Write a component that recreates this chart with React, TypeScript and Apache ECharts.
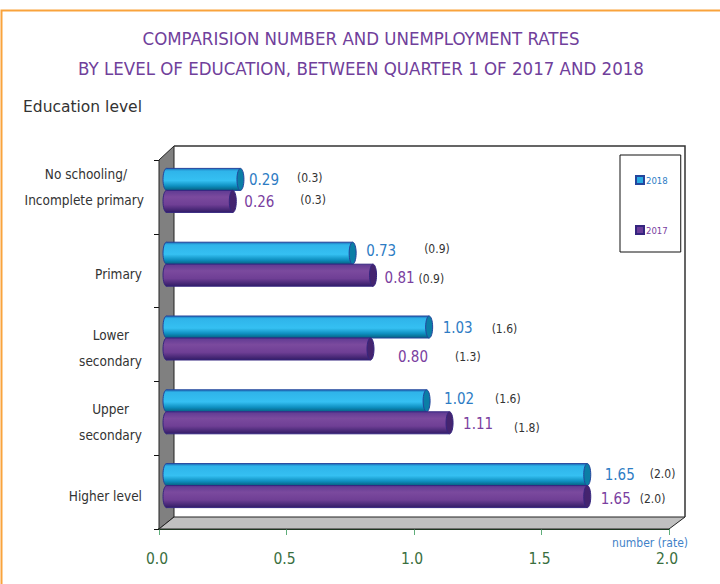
import React, { useEffect, useRef } from "react";
import * as echarts from "echarts";

const categories = [
  "{a|No schooling/}\n{b|Incomplete primary}\n{g| }",
  "{c|Primary}",
  "{d|Lower}\n{e|secondary}",
  "{d|Upper}\n{e|secondary}",
  "{f|Higher level}",
];
const values2018 = [0.29, 0.73, 1.03, 1.02, 1.65];
const values2017 = [0.26, 0.81, 0.8, 1.11, 1.65];
const rates2018 = ["(0.3)", "(0.9)", "(1.6)", "(1.6)", "(2.0)"];
const rates2017 = ["(0.3)", "(0.9)", "(1.3)", "(1.8)", "(2.0)"];

// label nudges in pixels, relative to the bar's end and the band's centre
const valueDx2018 = [16, 21, 21, 25, 25];
const valueDx2017 = [19, 19, 35, 21, 21];
const valueDy2018 = [-17, -19.5, -17, -19.5, -17];
const valueDy2017 = [5, 7.5, 12, 5.5, 7];
const rateDx2018 = [64, 79, 70, 76, 70];
const rateDx2017 = [75, 53, 92, 72, 60];
const rateDy2018 = [-19, -21.5, -16, -19.5, -18];
const rateDy2017 = [3, 8.5, 12, 9.5, 7];

const FONT = '"DejaVu Sans Condensed", "Noto Sans", sans-serif';
const DEPTH_X = 7.5;
const DEPTH_Y = 6.5;
const BAR_H = 22;

function barSeries(
  name: string,
  values: number[],
  rates: string[],
  top: boolean,
  colors: any,
  vdx: number[],
  vdy: number[],
  rdx: number[],
  rdy: number[]
) {
  return {
    name,
    type: "custom",
    coordinateSystem: "cartesian2d",
    clip: false,
    silent: true,
    z: top ? 3 : 4,
    encode: { x: 0, y: 1 },
    itemStyle: { color: colors.legend, borderColor: colors.border, borderWidth: 1 },
    data: values.map((v, i) => [v, i]),
    renderItem: (_p: any, api: any) => {
      const v = api.value(0);
      const i = api.value(1);
      const end = api.coord([v, i]);
      const start = api.coord([0, i]);
      const x0 = start[0] + DEPTH_X;
      const x1 = end[0] + DEPTH_X;
      const mid = end[1] - DEPTH_Y;
      const y = top ? mid - BAR_H : mid;
      const grad = new echarts.graphic.LinearGradient(0, 0, 0, 1, colors.stops);
      const idx = _p.dataIndex;
      const edge = { stroke: colors.border, lineWidth: 1 };
      return {
        type: "group",
        children: [
          {
            type: "ellipse",
            shape: { cx: x0, cy: y + BAR_H / 2, rx: 3.5, ry: BAR_H / 2 },
            style: { fill: grad, ...edge },
          },
          {
            type: "rect",
            shape: { x: x0, y, width: x1 - x0, height: BAR_H },
            style: { fill: grad, stroke: "none" },
          },
          { type: "line", shape: { x1: x0, y1: y, x2: x1, y2: y }, style: edge },
          { type: "line", shape: { x1: x0, y1: y + BAR_H, x2: x1, y2: y + BAR_H }, style: edge },
          {
            type: "ellipse",
            shape: { cx: x1, cy: y + BAR_H / 2, rx: 3.5, ry: BAR_H / 2 },
            style: { fill: colors.cap, ...edge },
          },
          {
            type: "text",
            style: {
              text: v.toFixed(2),
              x: end[0] + vdx[idx],
              y: end[1] + vdy[idx],
              fill: colors.text,
              font: `15px ${FONT}`,
              textAlign: "left",
              textVerticalAlign: "middle",
            },
          },
          {
            type: "text",
            style: {
              text: rates[idx],
              x: end[0] + rdx[idx],
              y: end[1] + rdy[idx],
              fill: "#333333",
              font: `12px ${FONT}`,
              textAlign: "left",
              textVerticalAlign: "middle",
            },
          },
        ],
      };
    },
  };
}

const blue = {
  legend: "#29abe2",
  border: "#24459c",
  cap: "#0b7ea6",
  text: "#2d7cc4",
  stops: [
    { offset: 0, color: "#1c6fb8" },
    { offset: 0.12, color: "#2fb4ea" },
    { offset: 0.55, color: "#35c0f2" },
    { offset: 0.8, color: "#0e8fc0" },
    { offset: 1, color: "#05607f" },
  ],
};
const purple = {
  legend: "#6a3d9a",
  border: "#35257f",
  cap: "#44246f",
  text: "#7a40a0",
  stops: [
    { offset: 0, color: "#5f3a92" },
    { offset: 0.3, color: "#7b4a9e" },
    { offset: 0.65, color: "#6f3f95" },
    { offset: 1, color: "#321c66" },
  ],
};

export default function App() {
  const ref = useRef<HTMLDivElement>(null);
  useEffect(() => {
    const chart = echarts.init(ref.current!, undefined, { renderer: "svg" });
    const common = { fontFamily: FONT, fontSize: 13.5, color: "#333333", lineHeight: 26, align: "right" };
    chart.setOption({
      animation: false,
      backgroundColor: "#ffffff",
      title: [
        {
          text: "COMPARISION NUMBER AND UNEMPLOYMENT RATES\nBY LEVEL OF EDUCATION, BETWEEN QUARTER 1 OF 2017 AND 2018",
          left: 356,
          textAlign: "center",
          top: 18,
          textStyle: { fontFamily: FONT, fontSize: 18.5, fontWeight: "normal", color: "#70409b", lineHeight: 30 },
        },
        {
          text: "Education level",
          left: 23,
          top: 99,
          padding: 0,
          textStyle: { fontFamily: '"DejaVu Sans", sans-serif', fontSize: 15.5, fontWeight: "normal", color: "#333333" },
        },
      ],
      legend: {
        orient: "vertical",
        left: 620,
        top: 155,
        width: 62,
        padding: [20, 13, 17, 15],
        itemWidth: 8,
        itemHeight: 8,
        itemGap: 40,
        borderColor: "#111111",
        borderWidth: 1,
        backgroundColor: "#ffffff",
        selectedMode: false,
        icon: "rect",
        data: [
          { name: "2018", textStyle: { color: "#2d7cc4" } },
          { name: "2017", textStyle: { color: "#7a40a0" } },
        ],
        textStyle: { fontFamily: FONT, fontSize: 9.5, padding: [3, 0, 0, -3] },
      },
      grid: { left: 159, top: 160, width: 510, height: 369 },
      xAxis: {
        type: "value",
        min: 0,
        max: 2,
        interval: 0.5,
        splitLine: { show: false },
        axisLine: { show: true, lineStyle: { color: "#1f4d20", width: 2 } },
        axisTick: { show: true, length: 6, lineStyle: { color: "#5fae7a", width: 1 } },
        axisLabel: {
          margin: 22,
          color: "#3a6f3f",
          fontFamily: FONT,
          fontSize: 15.5,
          padding: [0, 4, 0, 0],
          formatter: (v: number) => v.toFixed(1),
        },
        name: "number (rate)",
        nameLocation: "end",
        nameGap: 19,
        nameTextStyle: {
          color: "#3f82c8",
          fontFamily: FONT,
          fontSize: 12,
          align: "right",
          verticalAlign: "top",
          padding: [8, 0, 0, 0],
        },
      },
      yAxis: {
        type: "category",
        inverse: true,
        data: categories,
        axisLine: { show: true, lineStyle: { color: "#111111", width: 1 } },
        axisTick: { show: true, length: 5, lineStyle: { color: "#111111" } },
        axisLabel: {
          margin: 15,
          align: "right",
          padding: [7, 0, 0, 0],
          formatter: (v: string) => v,
          rich: {
            a: { ...common, padding: [0, 17, 0, 0] },
            b: { ...common },
            c: { ...common, padding: [0, 2, 0, 0] },
            d: { ...common, padding: [0, 15, 0, 0] },
            e: { ...common, padding: [0, 2, 0, 0] },
            f: { ...common, padding: [0, 2, 0, 0] },
            g: { ...common },
          },
        },
      },
      graphic: [
        { type: "polyline", z: 1, shape: { points: [[1.5, 584], [1.5, 10.5], [720, 10.5]] }, style: { stroke: "#f9a33c", fill: "none", lineWidth: 2 } },
        { type: "polygon", z: 1, shape: { points: [[159, 160], [174, 146], [174, 517], [159, 529]] }, style: { fill: "#808080", stroke: "#222222", lineWidth: 1 } },
        { type: "polygon", z: 1, shape: { points: [[159, 529], [174, 517], [685, 517], [669, 529]] }, style: { fill: "#c0c0c0", stroke: "#222222", lineWidth: 1 } },
        { type: "polyline", z: 1, shape: { points: [[174, 146], [685, 146], [685, 517]] }, style: { stroke: "#333333", fill: "none", lineWidth: 1.5 } },
      ],
      series: [
        barSeries("2018", values2018, rates2018, true, blue, valueDx2018, valueDy2018, rateDx2018, rateDy2018),
        barSeries("2017", values2017, rates2017, false, purple, valueDx2017, valueDy2017, rateDx2017, rateDy2017),
      ],
    });
    return () => chart.dispose();
  }, []);
  return <div ref={ref} style={{ position: "absolute", left: 0, top: 0, width: 720, height: 584 }} />;
}
